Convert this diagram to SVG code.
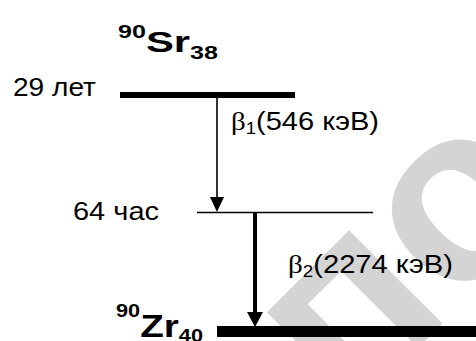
<svg xmlns="http://www.w3.org/2000/svg" width="476" height="341" viewBox="0 0 476 341">
  <style>
    .lbl { font-family: "Liberation Sans", Arial, sans-serif; font-size: 25px; fill: #000; }
    .iso { font-family: "Liberation Sans", Arial, sans-serif; font-weight: bold; fill: #000; }
    .beta { font-family: "Liberation Serif", "Times New Roman", serif; }
    .wm { font-family: "Liberation Sans", Arial, sans-serif; font-weight: bold; font-size: 250px; fill: #d4d4d4; }
    .lvl { stroke: #000; fill: none; }
    .tr { stroke: #000; fill: none; }
  </style>
  <rect width="476" height="341" fill="#fff"/>

  <!-- background stamp -->
  <text class="wm" transform="translate(348 418) rotate(-45)">по</text>

  <!-- 90Sr parent -->
  <g id="sr90">
    <text class="iso" x="118" y="52" textLength="100" lengthAdjust="spacingAndGlyphs"><tspan font-size="18" dy="-14">90</tspan><tspan font-size="30" dy="14">Sr</tspan><tspan font-size="18" dy="7">38</tspan></text>
    <text class="lbl" x="13" y="96" textLength="83" lengthAdjust="spacingAndGlyphs">29 лет</text>
    <line class="lvl" x1="120" y1="95" x2="295" y2="95" stroke-width="6"/>
  </g>

  <!-- intermediate level -->
  <g id="level-64h">
    <text class="lbl" x="73" y="220" textLength="86" lengthAdjust="spacingAndGlyphs">64 час</text>
    <line class="lvl" x1="197" y1="212.5" x2="373" y2="212.5" stroke-width="1.6"/>
  </g>

  <!-- 90Zr daughter -->
  <g id="zr90">
    <text class="iso" x="116" y="337" textLength="87" lengthAdjust="spacingAndGlyphs"><tspan font-size="18" dy="-20">90</tspan><tspan font-size="32" dy="20">Zr</tspan><tspan font-size="18" dy="5">40</tspan></text>
    <rect x="217" y="326" width="259" height="11" fill="#000"/>
  </g>

  <!-- beta transitions -->
  <g id="connectors">
    <line class="tr" x1="217" y1="98" x2="217" y2="198" stroke-width="1.6"/>
    <path d="M210,197 L224,197 L217,212 Z" fill="#000"/>
    <line class="tr" x1="255" y1="213" x2="255" y2="314" stroke-width="4"/>
    <path d="M247,312 L263,312 L255,327 Z" fill="#000"/>
  </g>

  <g id="beta1-label">
    <text class="lbl" x="231" y="130" textLength="148" lengthAdjust="spacingAndGlyphs"><tspan class="beta">β</tspan><tspan font-size="16" dy="4">1</tspan><tspan dy="-4">(546 кэВ)</tspan></text>
  </g>
  <g id="beta2-label">
    <text class="lbl" x="288" y="273" textLength="165" lengthAdjust="spacingAndGlyphs"><tspan class="beta">β</tspan><tspan font-size="16" dy="4">2</tspan><tspan dy="-4">(2274 кэВ)</tspan></text>
  </g>
</svg>
